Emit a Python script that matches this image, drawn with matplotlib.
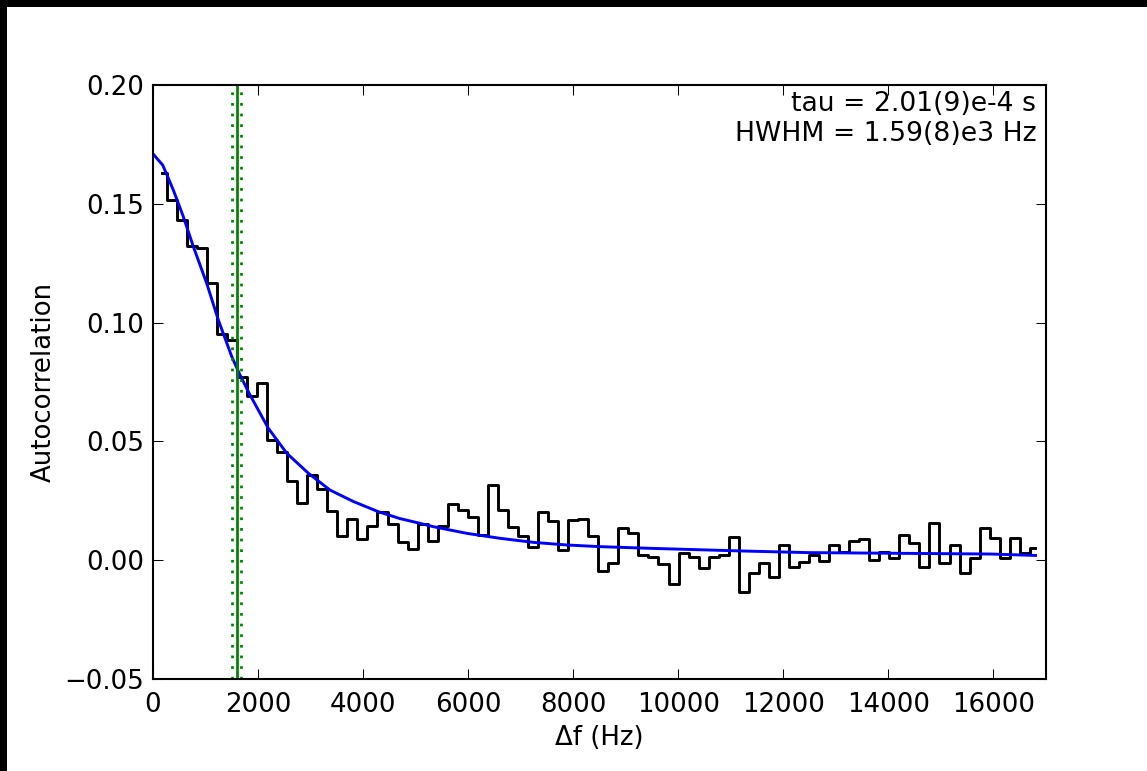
import numpy as np
import matplotlib
matplotlib.use("Agg")
import matplotlib.pyplot as plt
from matplotlib.patches import Rectangle

# ---- data ----
lag_start_hz = 166.0
lag_step_hz = 191.05
acf = [0.1630, 0.1516, 0.1432, 0.1322, 0.1315, 0.1165, 0.0951, 0.0927, 0.0772, 0.0692,
       0.0744, 0.0506, 0.0454, 0.0335, 0.0242, 0.0359, 0.0298, 0.0207, 0.0103, 0.0172,
       0.0089, 0.0144, 0.0204, 0.0152, 0.0077, 0.0046, 0.0151, 0.0082, 0.0144, 0.0235,
       0.0211, 0.0181, 0.0106, 0.0315, 0.0211, 0.0141, 0.0103, 0.0057, 0.0202, 0.0164,
       0.0045, 0.0168, 0.0173, 0.0101, -0.0045, -0.0011, 0.0134, 0.0113, 0.0021, 0.0015,
       -0.0016, -0.0102, 0.0032, 0.0015, -0.0032, 0.0012, 0.0022, 0.0096, -0.0135, -0.0053,
       -0.0013, -0.0072, 0.0064, -0.0029, -0.0009, 0.0022, -0.0002, 0.0063, 0.0034, 0.0080,
       0.0090, 0.0000, 0.0035, 0.0008, 0.0106, 0.0074, -0.0027, 0.0158, -0.0011, 0.0064,
       -0.0053, 0.0011, 0.0137, 0.0095, 0.0011, 0.0092, 0.0029, 0.0053]
lags = lag_start_hz + lag_step_hz * np.arange(len(acf))

fit_f = [0, 185, 387, 577, 768, 1023, 1244, 1499, 1657, 1848, 2196, 2547, 2958, 3371,
         3815, 4291, 4705, 5086, 5339, 5975, 6610, 7244, 7880, 8514, 9467, 11181,
         12451, 14200, 15943, 16800]
fit_v = [0.1710, 0.1663, 0.1558, 0.1446, 0.1320, 0.1165, 0.1011, 0.0857, 0.0779, 0.0695,
         0.0555, 0.0450, 0.0366, 0.0295, 0.0247, 0.0204, 0.0175, 0.0155, 0.0141, 0.0113,
         0.0092, 0.0075, 0.0064, 0.0057, 0.0050, 0.0039, 0.0032, 0.0029, 0.0026, 0.0020]

hwhm = 1590.0
hwhm_err = 80.0
annotation = ["tau = 2.01(9)e-4 s", "HWHM = 1.59(8)e3 Hz"]
xticks = [0, 2000, 4000, 6000, 8000, 10000, 12000, 14000, 16000]
yticks = [-0.05, 0.00, 0.05, 0.10, 0.15, 0.20]

# ---- figure ----
W, H, DPI = 1147, 771, 150
FS = 12.5
plt.rcParams['font.family'] = ['DejaVu Sans']
plt.rcParams['font.size'] = FS
plt.rcParams['lines.scale_dashes'] = False

fig = plt.figure(figsize=(W / DPI, H / DPI), dpi=DPI, facecolor='white')
fig.patches.append(Rectangle((0, 0), 7 / W, 1, transform=fig.transFigure,
                             facecolor='black', edgecolor='none', zorder=10))
fig.patches.append(Rectangle((0, 1 - 7 / H), 1, 7 / H, transform=fig.transFigure,
                             facecolor='black', edgecolor='none', zorder=10))

ax = fig.add_axes([153 / W, 1 - 679 / H, (1046 - 153) / W, (679 - 85) / H])

ax.plot(lags, acf, drawstyle='steps-mid', color='k', lw=1.4)
ax.plot(fit_f, fit_v, color='b', lw=1.4)
ax.axvline(hwhm, color='g', lw=1.3)
for xv in (hwhm - hwhm_err, hwhm + hwhm_err):
    ln = ax.axvline(xv, color='g', lw=1.3)
    ln.set_dashes((1.3, 3.8))

ax.set_xlim(0, 17000)
ax.set_ylim(-0.05, 0.20)
ax.set_xticks(xticks)
ax.set_yticks(yticks)
ax.set_yticklabels(['\u22120.05', '0.00', '0.05', '0.10', '0.15', '0.20'])
ax.tick_params(direction='in', length=4.8, width=0.5, top=True, right=True,
               labelsize=FS)
ax.tick_params(axis='y', pad=4.4)
ax.tick_params(axis='x', pad=6.0)
for s in ax.spines.values():
    s.set_linewidth(1.0)

ax.set_xlabel('\u0394f (Hz)', fontsize=FS, labelpad=3.5)
ax.set_ylabel('Autocorrelation', fontsize=FS, labelpad=3.5)

ax.text(0.989, 0.99, "\n".join(annotation), transform=ax.transAxes,
        ha='right', va='top', fontsize=12.8, multialignment='right')

fig.savefig('out.png', dpi=DPI, facecolor='white')
